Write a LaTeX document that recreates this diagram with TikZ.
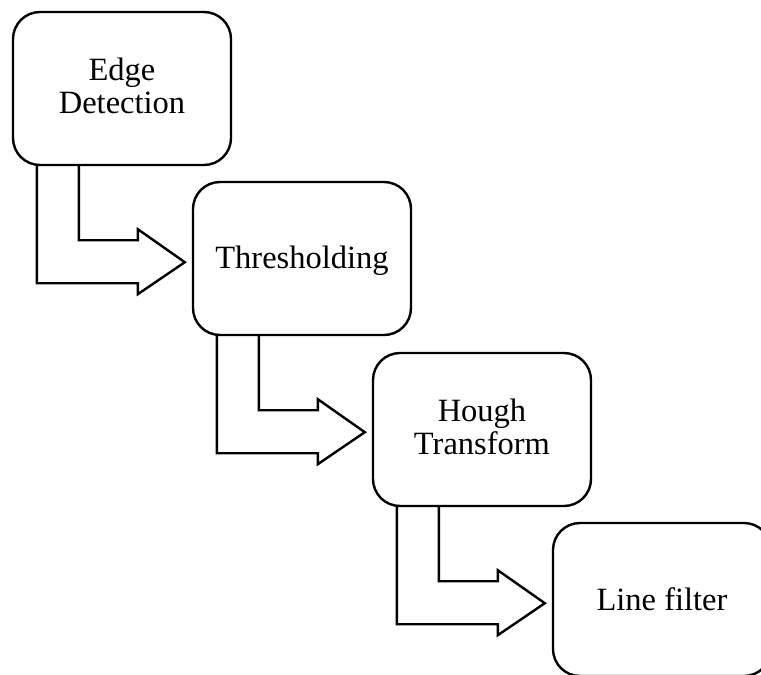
\documentclass[tikz,border=0pt]{standalone}
\usepackage{fontspec}
\setmainfont{Liberation Serif}
\usetikzlibrary{calc}
\begin{document}
\begin{tikzpicture}[x=1pt,y=-1pt,
  stepbox/.style={draw, line width=2.4pt, rounded corners=27pt, minimum width=218pt, minimum height=153pt, inner sep=0pt},
  steptext/.style={font=\fontsize{32.5}{33}\selectfont, align=center, inner sep=0pt},
  bentarrow/.style={draw, line width=2.4pt, line join=miter}]
\useasboundingbox (0,0) rectangle (761,675);
\clip (0,0) rectangle (761,675);
\node[stepbox] (b1) at (122,88.5) {};
\node[stepbox] (b2) at (302,258.5) {};
\node[stepbox] (b3) at (482,429.5) {};
\node[stepbox] (b4) at (662,599.5) {};
\node[steptext] (t1) at ($(b1.center)+(0,-3)$) {Edge\\Detection};
\node[steptext] (t2) at ($(b2.center)+(0,2)$) {Thresholding};
\node[steptext] (t3) at ($(b3.center)+(0,-3)$) {Hough\\Transform};
\node[steptext] (t4) at ($(b4.center)+(0,0)$) {Line filter};
\foreach \s in {b1,b2,b3}{
  \draw[bentarrow] ($(\s.south west)+(25,0)$) -- ++(0,117) -- ++(101,0) -- ++(0,11) -- ++(47,-32) -- ++(-47,-33) -- ++(0,11) -- ++(-59,0) -- ++(0,-74);
}
\end{tikzpicture}
\end{document}
